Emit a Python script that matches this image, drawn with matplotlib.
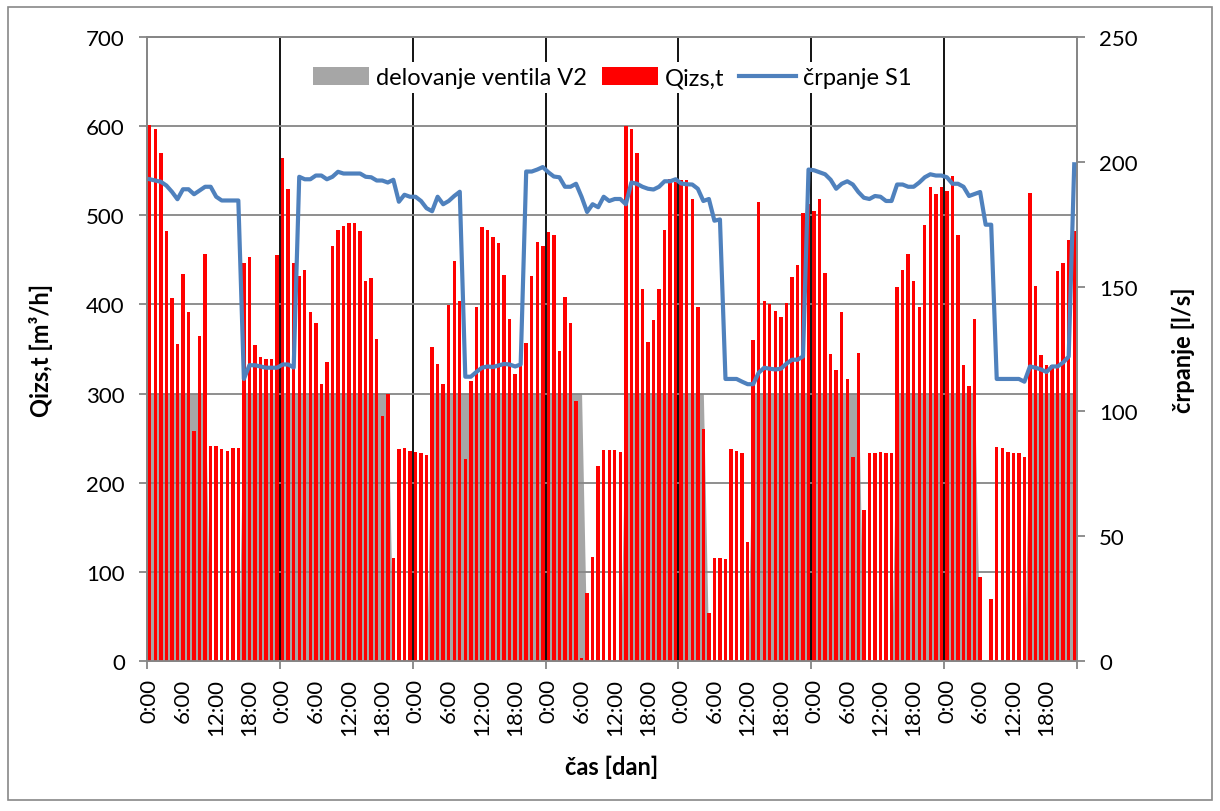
import matplotlib.pyplot as plt
import numpy as np
from matplotlib.patches import Patch, Rectangle
from matplotlib.lines import Line2D

plt.rcParams['font.family'] = ['Lato', 'DejaVu Sans']

# hourly outflow Qizs,t [m3/h], one row per day (7 days x 24 h)
qizs = [
    601, 597, 570, 482, 407, 356, 434, 392, 258, 365, 457, 241, 241, 238, 236, 239, 239, 447, 453, 355, 341, 339, 339, 456,
    564, 530, 446, 432, 439, 392, 379, 311, 335, 465, 483, 488, 491, 491, 482, 426, 430, 361, 275, 300, 116, 238, 239, 236,
    234, 233, 231, 352, 333, 311, 399, 449, 404, 227, 314, 397, 487, 483, 476, 469, 433, 384, 322, 331, 357, 432, 470, 466,
    481, 478, 348, 408, 379, 292, 3, 76, 117, 219, 237, 237, 237, 235, 600, 597, 570, 417, 358, 383, 417, 483, 541, 537,
    540, 540, 518, 397, 260, 54, 116, 116, 114, 238, 236, 233, 134, 360, 515, 404, 401, 393, 386, 402, 431, 444, 503, 513,
    505, 518, 435, 344, 327, 392, 316, 229, 345, 169, 233, 233, 235, 233, 233, 419, 439, 457, 426, 397, 489, 532, 524, 532,
    527, 544, 478, 332, 308, 384, 94, 0, 70, 240, 239, 235, 233, 233, 229, 525, 421, 343, 332, 332, 437, 447, 472, 482,
]

# pumping S1 [l/s]
crpanje = [
    193, 192.5, 192, 190.5, 188, 185, 189, 189, 187, 188.5, 190, 190, 186, 184.5, 184.5, 184.5, 184.5, 113, 118.5, 118.5, 118, 117.5, 117.5, 117.5,
    118.8, 118.8, 117.6, 194, 193, 193, 194.5, 194.5, 193, 194, 196, 195.3, 195.3, 195.3, 195.3, 194, 193.8, 192.5, 192.5, 191.7, 192.8, 184, 186.8, 186,
    186, 184.3, 181.4, 180.2, 186, 183, 184.3, 186.3, 188, 113.9, 113.9, 115.8, 117.5, 118, 117.8, 118.4, 119, 118.8, 118, 118.8, 196.1, 196.1, 196.9, 197.9,
    195.8, 194.1, 193.8, 190, 190, 191.2, 186, 179.9, 183, 181.8, 186, 184.3, 185.1, 185.1, 183, 191.7, 191.2, 190, 189.2, 188.9, 190, 192.2, 192.2, 193,
    191.3, 191, 190.9, 189.2, 184.3, 185.1, 176.4, 176.9, 113, 113, 113, 111.9, 110.9, 110.9, 115.5, 117.5, 117.1, 116.8, 117.1, 119.1, 120.7, 120.7, 122, 196.9,
    196.6, 195.8, 195, 192.8, 189.2, 191.2, 192.2, 190.9, 187.9, 185.6, 185.1, 186.3, 186, 184.3, 184.3, 190.9, 190.9, 190, 190, 191.7, 193.8, 195, 194.5, 194.5,
    193.8, 191.2, 191.2, 190, 186.3, 187.1, 187.9, 174.8, 174.8, 113, 113, 113, 113, 113, 111.9, 118, 117.5, 116.8, 115.8, 118, 118, 119.6, 122, 199,
]

# valve V2 operation (300 = open)
ventil = [
    300, 300, 300, 300, 300, 300, 300, 300, 300, 300, 300, 0, 0, 0, 0, 0, 0, 300, 300, 300, 300, 300, 300, 300,
    300, 300, 300, 300, 300, 300, 300, 300, 300, 300, 300, 300, 300, 300, 300, 300, 300, 300, 300, 300, 0, 0, 0, 0,
    0, 0, 0, 300, 300, 300, 300, 300, 300, 300, 300, 300, 300, 300, 300, 300, 300, 300, 300, 300, 300, 300, 300, 300,
    300, 300, 300, 300, 300, 300, 300, 0, 0, 0, 0, 0, 0, 0, 300, 300, 300, 300, 300, 300, 300, 300, 300, 300,
    300, 300, 300, 300, 300, 0, 0, 0, 0, 0, 0, 0, 0, 300, 300, 300, 300, 300, 300, 300, 300, 300, 300, 300,
    300, 300, 300, 300, 300, 300, 300, 300, 300, 0, 0, 0, 0, 0, 0, 300, 300, 300, 300, 300, 300, 300, 300, 300,
    300, 300, 300, 300, 300, 300, 0, 0, 0, 0, 0, 0, 0, 0, 0, 300, 300, 300, 300, 300, 300, 300, 300, 300,
]

hour_labels = ['0:00', '6:00', '12:00', '18:00']
n_days = 7

GRID = '#868686'
hours = np.arange(len(qizs))
xc = hours + 0.5
n = len(qizs)

fig = plt.figure(figsize=(12.2, 8.12), dpi=100)
ax = fig.add_axes([147 / 1220, 150 / 812, 930 / 1220, 624 / 812])
ax2 = ax.twinx()

# valve area, extended to the plot edges
xa = np.concatenate([[0], xc, [n]])
ya = np.concatenate([[ventil[0]], ventil, [ventil[-1]]])
ax.fill_between(xa, ya, 0, color='#A6A6A6', lw=0, zorder=1)

# day separators
for d in range(1, n_days):
    ax.axvline(24 * d, color='black', lw=1.3, zorder=2)

ax.bar(xc, qizs, width=0.62, color='#FF0000', zorder=3)

ax2.plot(xc, crpanje, color='#4F81BD', lw=3, solid_joinstyle='round', zorder=4)

ax.set_xlim(0, n)
ax.set_ylim(0, 700)
ax2.set_ylim(0, 250)
ax.set_yticks(range(0, 701, 100))
ax2.set_yticks(range(0, 251, 50))

ax.set_axisbelow(False)
ax.yaxis.grid(True, color=GRID, lw=1.3)
ax.xaxis.grid(False)

ax.set_xticks(np.arange(0, n + 1, 24))
ax.set_xticklabels([])
ax.set_xticks(np.arange(0, n, 6) + 0.5, minor=True)
ax.set_xticklabels(hour_labels * n_days, minor=True, rotation=90, va='top')
ax.tick_params(axis='x', which='major', length=6, width=1.3, color=GRID)
ax.tick_params(axis='x', which='minor', length=0, pad=12, labelsize=16)
ax.tick_params(axis='y', length=6, width=1.3, color=GRID, labelsize=16, pad=10)
ax2.tick_params(axis='y', length=6, width=1.3, color=GRID, labelsize=16, pad=10)

for a in (ax, ax2):
    for s in a.spines.values():
        s.set_color(GRID)
        s.set_linewidth(1.3)

ax.set_ylabel('Qizs,t [m³/h]', fontsize=17, fontweight='bold', labelpad=24)
ax2.set_ylabel('črpanje [l/s]', fontsize=17, fontweight='bold', labelpad=24)
ax.set_xlabel('čas [dan]', fontsize=17, fontweight='bold', labelpad=14)

handles = [
    Patch(facecolor='#A6A6A6', edgecolor='none', label='delovanje ventila V2'),
    Patch(facecolor='#FF0000', edgecolor='none', label='Qizs,t'),
    Line2D([0], [0], color='#4F81BD', lw=3, label='črpanje S1'),
]
leg = ax2.legend(handles=handles, loc='center', bbox_to_anchor=(0.5, 0.935), ncol=3,
                 fontsize=17, frameon=True, facecolor='white', edgecolor='none', framealpha=1,
                 handlelength=2.4, handleheight=0.8, handletextpad=0.3, columnspacing=0.6,
                 borderpad=0.2, borderaxespad=0)
leg.set_zorder(10)

# outer chart border
fig.patches.append(Rectangle((8 / 1220, 11 / 812), 1204 / 1220, 793 / 812, transform=fig.transFigure,
                             fill=False, edgecolor='#888888', lw=1.2))

fig.savefig('out.png', dpi=100)
